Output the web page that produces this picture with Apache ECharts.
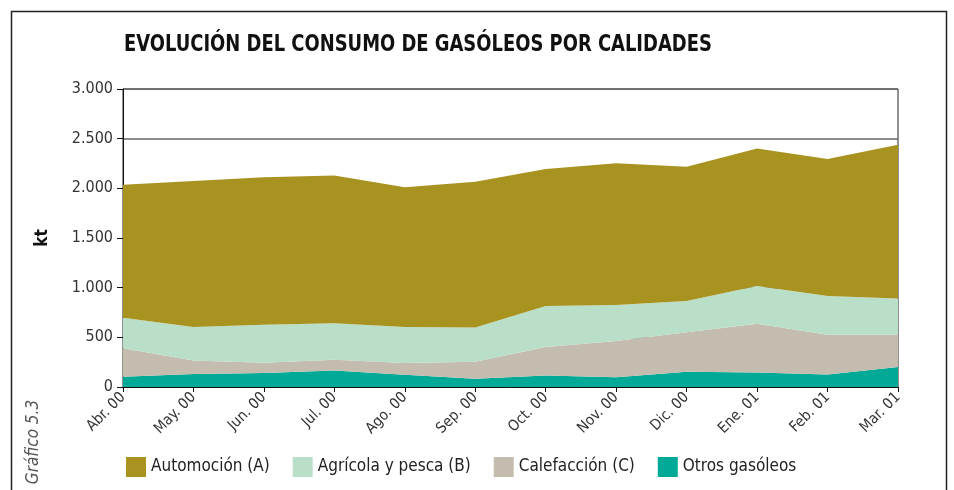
<!DOCTYPE html>
<html>
<head>
<meta charset="utf-8">
<script src="https://cdn.jsdelivr.net/npm/echarts@6/dist/echarts.min.js"></script>
<style>
  html, body { margin: 0; padding: 0; background: #fff; }
  #chart { width: 954px; height: 490px; }
</style>
</head>
<body>
<div id="chart"></div>
<script>
const months = ['Abr. 00', 'May. 00', 'Jun. 00', 'Jul. 00', 'Ago. 00', 'Sep. 00',
  'Oct. 00', 'Nov. 00', 'Dic. 00', 'Ene. 01', 'Feb. 01', 'Mar. 01'];

// kt
const automocion = [1339, 1470, 1484, 1487, 1406, 1467, 1380, 1426, 1352, 1383, 1380, 1548];
const agricola = [309, 336, 382, 366, 362, 345, 412, 363, 316, 380, 389, 365];
const calefaccion = [285, 137, 104, 108, 118, 171, 286, 366, 396, 490, 400, 326];
const otros = [104, 131, 141, 167, 124, 84, 117, 97, 154, 147, 127, 201];

const seriesNames = ['Automoción (A)', 'Agrícola y pesca (B)', 'Calefacción (C)', 'Otros gasóleos'];
const colors = ['#a89320', '#badfc9', '#c4bcaf', '#00aa96'];

const narrow = "'Liberation Sans Narrow', 'DejaVu Sans Condensed', sans-serif";

const fmt = (v) => String(v).replace(/\B(?=(\d{3})+(?!\d))/g, '.');

const chart = echarts.init(document.getElementById('chart'));

// stacking goes bottom-up, so otros first
const stackOrder = [
  [seriesNames[3], otros, colors[3]],
  [seriesNames[2], calefaccion, colors[2]],
  [seriesNames[1], agricola, colors[1]],
  [seriesNames[0], automocion, colors[0]],
];

chart.setOption({
  animation: false,
  legend: {
    data: seriesNames,
    left: 121,
    top: 452,
    itemWidth: 20,
    itemHeight: 20,
    itemGap: 23,
    icon: 'rect',
    textStyle: { fontFamily: narrow, fontSize: 17, color: '#222' }
  },
  grid: {
    left: 123, right: 56, top: 89, bottom: 103,
    show: true, borderColor: '#222', borderWidth: 1, containLabel: false
  },
  xAxis: {
    type: 'category',
    data: months,
    boundaryGap: false,
    axisLine: { lineStyle: { color: '#111' } },
    axisTick: { alignWithLabel: true, length: 5, lineStyle: { color: '#111' } },
    axisLabel: { rotate: 45, interval: 0, fontFamily: narrow, fontSize: 15, color: '#333', margin: 8 }
  },
  yAxis: {
    type: 'value',
    min: 0, max: 3000, interval: 500,
    name: 'kt',
    nameLocation: 'middle',
    nameGap: 72,
    nameRotate: 90,
    nameTextStyle: { fontFamily: narrow, fontWeight: 'bold', fontSize: 17, color: '#111' },
    axisLine: { show: true, lineStyle: { color: '#111' } },
    axisTick: { show: true, length: 6, lineStyle: { color: '#111' } },
    axisLabel: { fontFamily: narrow, fontSize: 16, color: '#333', margin: 10, formatter: fmt },
    splitLine: { lineStyle: { color: '#666', width: 1.5 } }
  },
  graphic: [
    {
      type: 'rect',
      shape: { x: 11.5, y: 11.5, width: 935, height: 520 },
      style: { fill: null, stroke: '#222', lineWidth: 1.5 },
      silent: true
    },
    {
      // condensed bold title
      type: 'text',
      x: 124, y: 45,
      scaleX: 0.866,
      style: {
        text: 'EVOLUCIÓN DEL CONSUMO DE GASÓLEOS POR CALIDADES',
        font: "bold 23px 'DejaVu Sans Condensed', sans-serif",
        fill: '#111',
        verticalAlign: 'middle'
      }
    },
    {
      type: 'text',
      x: 34, y: 442,
      rotation: Math.PI / 2,
      style: {
        text: 'Gráfico 5.3',
        font: "italic 17px 'DejaVu Sans Condensed', sans-serif",
        fill: '#555',
        align: 'center',
        verticalAlign: 'middle'
      }
    }
  ],
  series: stackOrder.map(([name, values, color]) => ({
    name,
    type: 'line',
    stack: 'total',
    data: values,
    showSymbol: false,
    symbol: 'none',
    itemStyle: { color },
    lineStyle: { width: 0 },
    areaStyle: { color, opacity: 1 }
  }))
});
</script>
</body>
</html>
